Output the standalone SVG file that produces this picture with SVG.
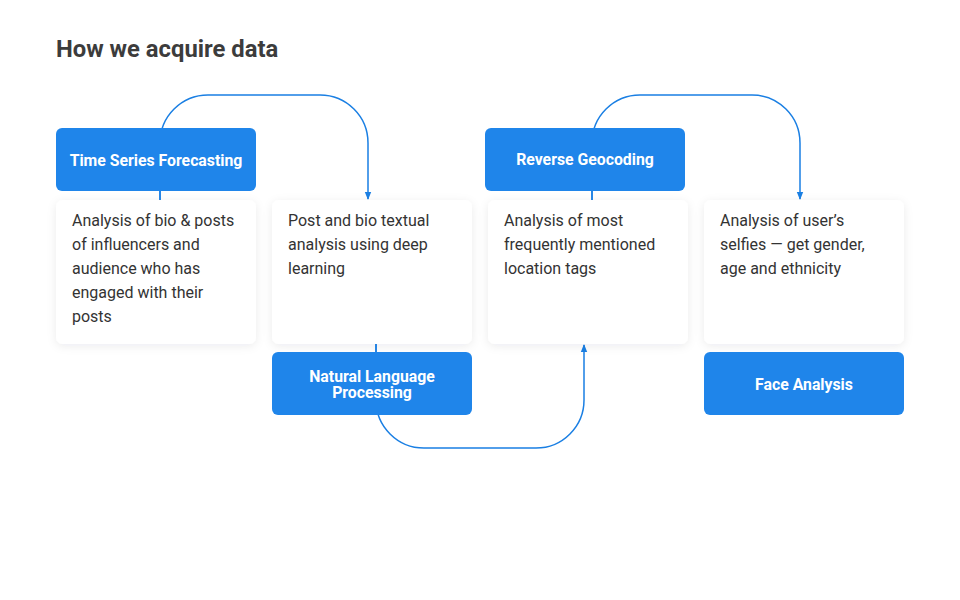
<svg xmlns="http://www.w3.org/2000/svg" width="960" height="600" viewBox="0 0 960 600">
<defs>
<style>
.title{font-family:Roboto,"Liberation Sans",sans-serif;font-weight:700;font-size:23.8px;fill:#3c3c3c}
.card{fill:#fff;filter:url(#sh)}
.box{fill:#1f85ea}
.lbl{font-family:Roboto,"Liberation Sans",sans-serif;font-weight:700;font-size:15.8px;fill:#fff;text-anchor:middle}
.txt{font-family:Roboto,"Liberation Sans",sans-serif;font-size:16px;fill:#333}
.con{fill:none;stroke:#1a7fe3;stroke-width:1.5}
</style>
<filter id="sh" x="-20%" y="-20%" width="140%" height="140%">
<feDropShadow dx="0" dy="2" stdDeviation="5" flood-color="#1a2a4a" flood-opacity="0.08"/>
</filter>
<marker id="ar" viewBox="0 0 8 8" refX="7" refY="4" markerWidth="8" markerHeight="8" markerUnits="userSpaceOnUse" orient="auto">
<path d="M0,0.8 L8,4 L0,7.2 Z" fill="#1a7fe3"/>
</marker>
</defs>
<rect width="960" height="600" fill="#fff"/>
<text class="title" x="56" y="57">How we acquire data</text>
<g id="connectors">
<path class="con" d="M160,200 L160,143 A48,48 0 0 1 208,95 L320,95 A48,48 0 0 1 368,143 L368,199" marker-end="url(#ar)"/>
<path class="con" d="M376,344 L376,400 A48,48 0 0 0 424,448 L536,448 A48,48 0 0 0 584,400 L584,345" marker-end="url(#ar)"/>
<path class="con" d="M592,200 L592,143 A48,48 0 0 1 640,95 L752,95 A48,48 0 0 1 800,143 L800,199" marker-end="url(#ar)"/>
</g>
<g id="card1"><rect class="card" x="56" y="200" width="200" height="144" rx="7"/>
<text class="txt" x="72"><tspan x="72" y="226">Analysis of bio &amp; posts</tspan><tspan x="72" y="250">of influencers and</tspan><tspan x="72" y="274">audience who has</tspan><tspan x="72" y="298">engaged with their</tspan><tspan x="72" y="322">posts</tspan></text></g>
<g id="card2"><rect class="card" x="272" y="200" width="200" height="144" rx="7"/>
<text class="txt"><tspan x="288" y="226">Post and bio textual</tspan><tspan x="288" y="250">analysis using deep</tspan><tspan x="288" y="274">learning</tspan></text></g>
<g id="card3"><rect class="card" x="488" y="200" width="200" height="144" rx="7"/>
<text class="txt"><tspan x="504" y="226">Analysis of most</tspan><tspan x="504" y="250">frequently mentioned</tspan><tspan x="504" y="274">location tags</tspan></text></g>
<g id="card4"><rect class="card" x="704" y="200" width="200" height="144" rx="7"/>
<text class="txt"><tspan x="720" y="226">Analysis of user’s</tspan><tspan x="720" y="250">selfies — get gender,</tspan><tspan x="720" y="274">age and ethnicity</tspan></text></g>
<g id="stubs">
<path class="con" d="M160,191 L160,200 M376,344 L376,352 M592,191 L592,200"/>
</g>
<g id="tsf"><rect class="box" x="56" y="128" width="200" height="63" rx="6"/>
<text class="lbl" x="156" y="166">Time Series Forecasting</text></g>
<g id="rg"><rect class="box" x="485" y="128" width="200" height="63" rx="6"/>
<text class="lbl" x="585" y="165">Reverse Geocoding</text></g>
<g id="nlp"><rect class="box" x="272" y="352" width="200" height="63" rx="6"/>
<text class="lbl"><tspan x="372" y="381.5">Natural Language</tspan><tspan x="372" y="397.5">Processing</tspan></text></g>
<g id="face"><rect class="box" x="704" y="352" width="200" height="63" rx="6"/>
<text class="lbl" x="804" y="390">Face Analysis</text></g>
</svg>
